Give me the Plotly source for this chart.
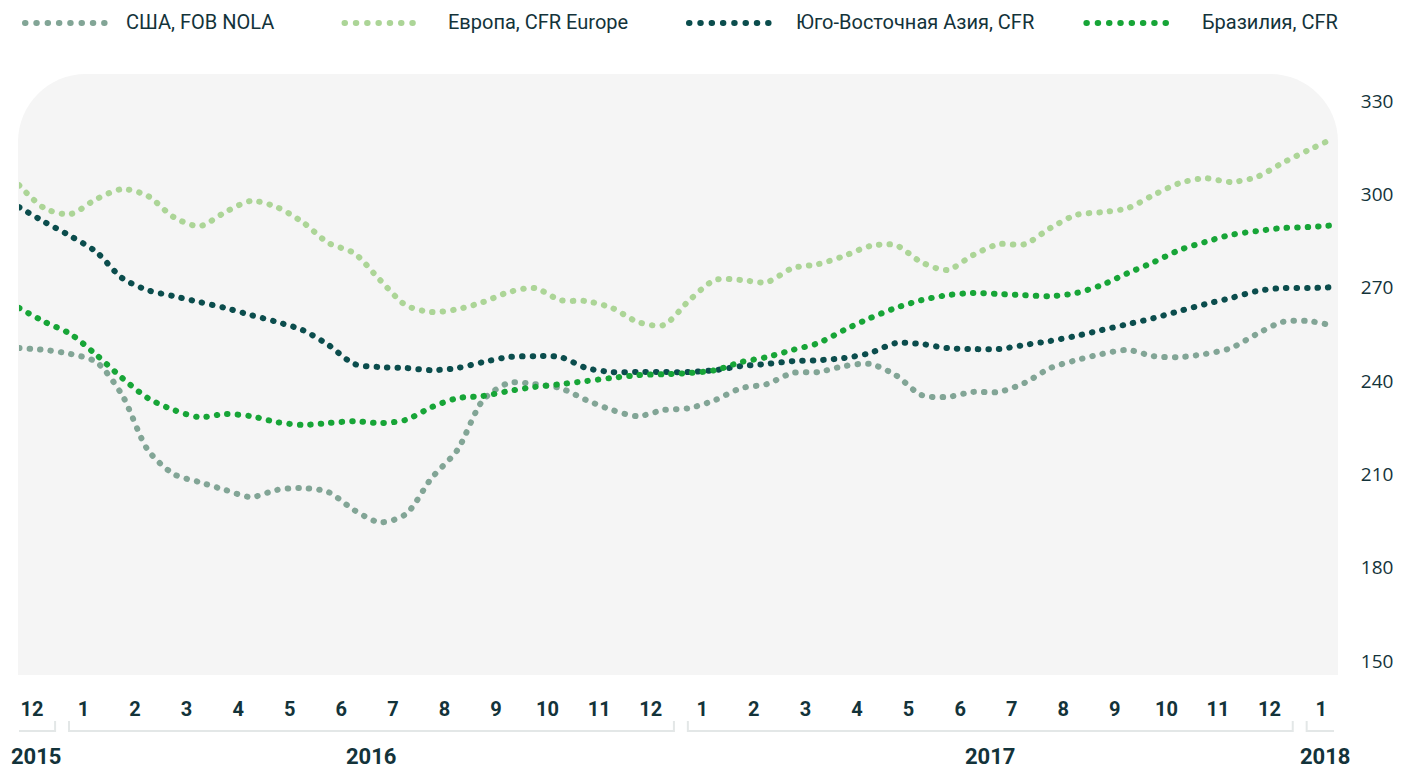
import plotly.graph_objects as go

# ---------------- DATA ----------------
month_labels = ["12", "1", "2", "3", "4", "5", "6", "7", "8", "9", "10", "11", "12",
                "1", "2", "3", "4", "5", "6", "7", "8", "9", "10", "11", "12", "1"]
years = ["2015", "2016", "2017", "2018"]
year_first_idx = [0, 1, 13, 25]
year_last_idx = [0, 12, 24, 25]

# sampling positions (in month-index units, 0 = Dec 2015), half-month steps
x_pos = [-0.25 + 0.5 * k for k in range(52)]

series_names = ["США, FOB NOLA", "Европа, CFR Europe", "Юго-Восточная Азия, CFR", "Бразилия, CFR"]

usa = [250.6, 250.0, 248.7, 246.1, 235.5, 217.8, 210.1, 207.5, 205.0, 202.7,
       205.0, 205.6, 204.3, 198.5, 194.6, 197.2, 208.8, 217.8, 233.9, 239.4,
       239.0, 237.7, 233.9, 230.7, 228.7, 230.7, 231.3, 233.9, 237.7, 239.0,
       242.6, 242.9, 244.8, 245.5, 241.9, 235.5, 234.9, 236.5, 236.5, 239.4,
       244.2, 246.7, 248.7, 250.0, 248.0, 247.7, 248.7, 250.6, 255.1, 259.0,
       259.3, 257.7]

europe = [303.0, 295.5, 293.7, 298.5, 301.7, 299.5, 292.7, 289.8, 294.3, 297.9,
          295.9, 291.1, 284.4, 281.1, 272.5, 264.4, 262.2, 263.1, 265.4, 268.6,
          269.9, 266.0, 265.7, 263.5, 259.0, 258.0, 266.0, 272.5, 272.5, 271.8,
          276.3, 277.6, 280.2, 283.4, 283.7, 278.2, 275.7, 280.5, 284.0, 284.0,
          289.2, 293.4, 294.3, 295.6, 299.8, 303.6, 305.2, 304.0, 305.6, 310.1,
          314.2, 318.1]

asia = [295.9, 291.1, 286.6, 281.5, 273.1, 269.2, 267.3, 265.4, 263.5, 261.2,
        259.0, 256.4, 251.6, 245.5, 244.5, 244.2, 243.5, 244.2, 246.1, 247.7,
        248.0, 247.7, 244.2, 242.9, 242.9, 242.9, 242.9, 243.5, 244.8, 245.5,
        246.4, 246.7, 247.4, 249.0, 252.2, 251.9, 250.6, 250.3, 250.3, 251.6,
        252.9, 254.5, 256.4, 258.3, 260.2, 262.5, 264.7, 266.7, 268.9, 269.9,
        269.9, 270.2]

brazil = [263.5, 259.0, 255.1, 248.4, 241.0, 234.5, 230.7, 228.4, 229.4, 228.7,
          226.8, 225.9, 226.5, 227.1, 226.5, 227.5, 231.6, 234.5, 235.2, 236.8,
          238.1, 239.0, 240.0, 241.0, 241.9, 242.2, 242.6, 243.5, 246.1, 247.7,
          250.0, 252.2, 256.4, 260.2, 263.5, 266.0, 267.6, 268.3, 268.0, 267.6,
          267.3, 268.3, 270.9, 274.7, 278.2, 282.1, 284.7, 287.0, 288.2, 289.2,
          289.5, 290.1]

y_ticks = [150, 180, 210, 240, 270, 300, 330]

# ---------------- STYLE / LAYOUT ----------------
colors = ["#82a596", "#acd597", "#0b4d4d", "#17a537"]
W, H = 1405, 769
L, R, T, B = 19, 69, 70, 94
PW, PH = W - L - R, H - T - B
TEXT = "#13333a"


def px_x(px):
    return (px - L) / PW


def px_y(py):
    return 1 - (py - T) / PH


fig = go.Figure()
for name, vals, col in zip(series_names, [usa, europe, asia, brazil], colors):
    fig.add_trace(go.Scatter(
        x=x_pos, y=vals, name=name, mode="lines",
        line=dict(color=col, width=6, dash="0.5px,10px", shape="spline", smoothing=0.8),
        showlegend=False, hoverinfo="skip",
    ))

shapes = []
# rounded-top background panel
x0, x1, yt, yb, r = 18, 1340, 74, 675, 68
k = 0.5523
pts = [
    ("M", [(x0, yb)]),
    ("L", [(x0, yt + r)]),
    ("C", [(x0, yt + r - k * r), (x0 + r - k * r, yt), (x0 + r, yt)]),
    ("L", [(x1 - r, yt)]),
    ("C", [(x1 - r + k * r, yt), (x1, yt + r - k * r), (x1, yt + r)]),
    ("L", [(x1, yb)]),
]
path = ""
for cmd, plist in pts:
    path += cmd + " ".join(f"{px_x(a):.5f},{px_y(b):.5f}" for a, b in plist) + " "
path += "Z"
shapes.append(dict(type="path", path=path, xref="paper", yref="paper",
                   fillcolor="#f5f5f5", line=dict(width=0), layer="below"))

# year brackets
annotations = []
for yr, a, b in zip(years, year_first_idx, year_last_idx):
    xa, xb = a - 0.28, b + 0.45
    ytop, ybot = px_y(721), px_y(731)
    shapes.append(dict(type="path", xref="x", yref="paper",
                       path=f"M{xa},{ytop} L{xa},{ybot} L{xb},{ybot} L{xb},{ytop}",
                       line=dict(color="#e3e7e7", width=2)))
    annotations.append(dict(text=yr, x=(xa + xb) / 2, y=px_y(756), xref="x", yref="paper",
                            showarrow=False, yanchor="middle", xanchor="center",
                            font=dict(family="Roboto", size=22, color=TEXT, weight="bold")))

# manual legend
leg_line = [(25, 105), (345, 423), (690, 770), (1088, 1170)]
leg_text_x = [124, 447, 795, 1202]
for name, col, (la, lb), tx in zip(series_names, colors, leg_line, leg_text_x):
    shapes.append(dict(type="line", xref="paper", yref="paper",
                       x0=px_x(la), x1=px_x(lb), y0=px_y(23), y1=px_y(23),
                       line=dict(color=col, width=6, dash="0.5px,10.8px")))
    annotations.append(dict(text=name, x=px_x(tx), y=px_y(22), xref="paper", yref="paper",
                            showarrow=False, xanchor="left", yanchor="middle",
                            font=dict(family="Roboto", size=20, color=TEXT)))

fig.update_layout(
    width=W, height=H,
    margin=dict(l=L, r=R, t=T, b=B),
    paper_bgcolor="white", plot_bgcolor="rgba(0,0,0,0)",
    shapes=shapes, annotations=annotations,
    showlegend=False,
    xaxis=dict(range=[-0.25, 25.25], tickvals=list(range(len(month_labels))), ticktext=month_labels,
               showgrid=False, zeroline=False, showline=False,
               ticks="outside", ticklen=16, tickcolor="rgba(0,0,0,0)",
               tickfont=dict(family="Roboto", size=20, color=TEXT, weight="bold"),
               fixedrange=True),
    yaxis=dict(range=[145.5, 340], side="right", tickvals=y_ticks,
               showgrid=False, zeroline=False, showline=False,
               ticks="outside", ticklen=22, tickcolor="rgba(0,0,0,0)",
               tickfont=dict(family="Open Sans", size=19, color=TEXT),
               fixedrange=True),
)

post = """
document.documentElement.style.margin = '0';
document.documentElement.style.padding = '0';
document.body.style.margin = '0';
document.body.style.padding = '0';
document.body.style.overflow = 'hidden';
var gd = document.getElementById('{plot_id}');
function fixCaps(){
  document.querySelectorAll('path').forEach(function(p){
    var d = p.style.strokeDasharray;
    if (d && d !== 'none') { p.style.strokeLinecap = 'round'; }
  });
}
fixCaps();
if (gd && gd.on) { gd.on('plotly_afterplot', fixCaps); }
setTimeout(fixCaps, 50);
setTimeout(fixCaps, 300);
"""

fig.write_html("out.html", config={"displayModeBar": False}, post_script=post)
